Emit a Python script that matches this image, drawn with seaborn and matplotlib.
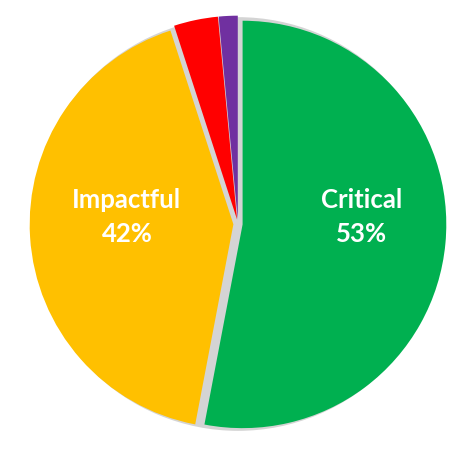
import matplotlib
matplotlib.use("Agg")
import matplotlib.pyplot as plt
import seaborn as sns
import numpy as np

# slice data (clockwise from 12 o'clock)
categories = ["Critical", "Impactful", "Other A", "Other B"]
shares = [53.0, 42.0, 3.5, 1.5]
show_label = [True, True, False, False]
colors = ["#00B050", "#FFC000", "#FF0000", "#7030A0"]
label_dist = [0.593, 0.53, 0.0, 0.0]

sns.set_style("white")
plt.rcParams["font.family"] = ["Lato", "DejaVu Sans"]

fig = plt.figure(figsize=(4.77, 4.52), dpi=100)
cx, cy, r = 238, 225, 210
ax = fig.add_axes([(cx - r) / 477, (452 - cy - r) / 452, 2 * r / 477, 2 * r / 452])

# grey backing so the gaps between slices look shaded
ax.pie([1], colors=["#d4d4d4"], radius=0.985, startangle=90,
       wedgeprops=dict(linewidth=0))

wedges, _ = ax.pie(shares, colors=colors, startangle=90, counterclock=False,
                   radius=0.97, explode=[0.022] * len(shares),
                   wedgeprops=dict(linewidth=0))

for w, name, val, lab, d in zip(wedges, categories, shares, show_label, label_dist):
    if not lab:
        continue
    ang = np.deg2rad((w.theta1 + w.theta2) / 2)
    x = d * np.cos(ang)
    ax.text(x, 0.036, f"{name}\n{val:.0f}%", ha="center", va="center",
            color="white", fontsize=18.5, fontweight="bold", linespacing=1.5)

ax.set_xlim(-1, 1)
ax.set_ylim(-1, 1)
ax.set_aspect("equal")
ax.axis("off")

fig.savefig("out.png", dpi=100, facecolor="white")
